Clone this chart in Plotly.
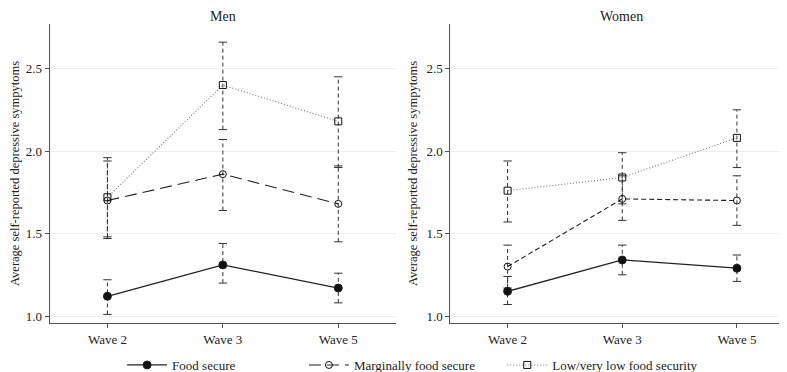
import plotly.graph_objects as go

waves = ["Wave 2", "Wave 3", "Wave 5"]
series_names = ["Food secure", "Marginally food secure", "Low/very low food security"]

men_fs = [1.12, 1.31, 1.17]
men_fs_lo = [1.01, 1.20, 1.08]
men_fs_hi = [1.22, 1.44, 1.26]
men_mfs = [1.70, 1.86, 1.68]
men_mfs_lo = [1.47, 1.64, 1.45]
men_mfs_hi = [1.94, 2.07, 1.91]
men_low = [1.72, 2.40, 2.18]
men_low_lo = [1.48, 2.13, 1.90]
men_low_hi = [1.96, 2.66, 2.45]

women_fs = [1.15, 1.34, 1.29]
women_fs_lo = [1.07, 1.25, 1.21]
women_fs_hi = [1.24, 1.43, 1.37]
women_mfs = [1.30, 1.71, 1.70]
women_mfs_lo = [1.17, 1.58, 1.55]
women_mfs_hi = [1.43, 1.85, 1.85]
women_low = [1.76, 1.84, 2.08]
women_low_lo = [1.57, 1.68, 1.90]
women_low_hi = [1.94, 1.99, 2.25]

FONT = "Liberation Serif"
fig = go.Figure()

def add_err(xa, ya, lo, hi):
    xs, ys = [], []
    for w, l, h in zip(waves, lo, hi):
        xs += [w, w, None]
        ys += [l, h, None]
    fig.add_trace(go.Scatter(x=xs, y=ys, mode="lines+markers", xaxis=xa, yaxis=ya,
                             line=dict(color="#333", width=1, dash="4px,3px"),
                             marker=dict(symbol="line-ew", size=6, line=dict(color="#333", width=1)),
                             showlegend=False, hoverinfo="skip"))

def add_series(xa, ya, vals, name, dash, color, width, symbol, msize, legend, lg):
    fig.add_trace(go.Scatter(x=waves, y=vals, mode="lines+markers", name=name, xaxis=xa, yaxis=ya,
                             line=dict(color=color, width=width, dash=dash),
                             marker=dict(symbol=symbol, size=msize, color="#111",
                                         line=dict(color="#222", width=1)),
                             showlegend=legend, legend=lg))

panels = [
    ("x", "y", [(men_fs, men_fs_lo, men_fs_hi), (men_mfs, men_mfs_lo, men_mfs_hi), (men_low, men_low_lo, men_low_hi)], "12px,6px", True),
    ("x2", "y2", [(women_fs, women_fs_lo, women_fs_hi), (women_mfs, women_mfs_lo, women_mfs_hi), (women_low, women_low_lo, women_low_hi)], "5px,3px", False),
]
for xa, ya, data, mdash, leg in panels:
    for v, lo, hi in data:
        add_err(xa, ya, lo, hi)
    add_series(xa, ya, data[0][0], series_names[0], "solid", "#222", 1.3, "circle", 8, leg, "legend")
    add_series(xa, ya, data[1][0], series_names[1], mdash, "#222", 1.1, "circle-open", 7, leg, "legend2")
    add_series(xa, ya, data[2][0], series_names[2], "1px,2px", "#777", 1.1, "square-open", 7, leg, "legend3")

yax = dict(range=[0.958, 2.77], tickvals=[1.0, 1.5, 2.0, 2.5], ticktext=["1.0", "1.5", "2.0", "2.5"],
           showgrid=True, gridcolor="#eeeeee", gridwidth=1, zeroline=False,
           showline=True, linecolor="#555", linewidth=1, ticks="outside", ticklen=4, tickcolor="#555",
           tickfont=dict(family=FONT, size=13, color="#222"),
           title=dict(text="Average self-reported depressive sympytoms", font=dict(family=FONT, size=12.5, color="#222"), standoff=6))
xax = dict(type="category", range=[-0.5, 2.5], showgrid=False, zeroline=False,
           showline=True, linecolor="#555", linewidth=1, ticks="outside", ticklen=4, tickcolor="#555",
           tickfont=dict(family=FONT, size=13, color="#222"))

leg_common = dict(orientation="h", xanchor="left", y=-0.09, yanchor="top",
                  font=dict(family=FONT, size=13, color="#222"), itemwidth=40, bgcolor="rgba(0,0,0,0)")

fig.update_layout(
    width=787, height=372, margin=dict(l=0, r=0, t=16, b=56),
    paper_bgcolor="white", plot_bgcolor="white",
    font=dict(family=FONT, color="#222"),
    xaxis=dict(domain=[0.053, 0.493], anchor="y", **xax),
    xaxis2=dict(domain=[0.562, 0.999], anchor="y2", **xax),
    yaxis=dict(domain=[0, 1], anchor="x", **yax),
    yaxis2=dict(domain=[0, 1], anchor="x2", **yax),
    legend=dict(x=0.145, **leg_common),
    legend2=dict(x=0.376, **leg_common),
    legend3=dict(x=0.628, **leg_common),
    annotations=[
        dict(text="Men", x=0.273, y=1, xref="paper", yref="paper", xanchor="center", yanchor="bottom",
             yshift=-2, showarrow=False, font=dict(family=FONT, size=14, color="#222")),
        dict(text="Women", x=0.78, y=1, xref="paper", yref="paper", xanchor="center", yanchor="bottom",
             yshift=-2, showarrow=False, font=dict(family=FONT, size=14, color="#222")),
    ],
)

fig.write_html("out.html")
